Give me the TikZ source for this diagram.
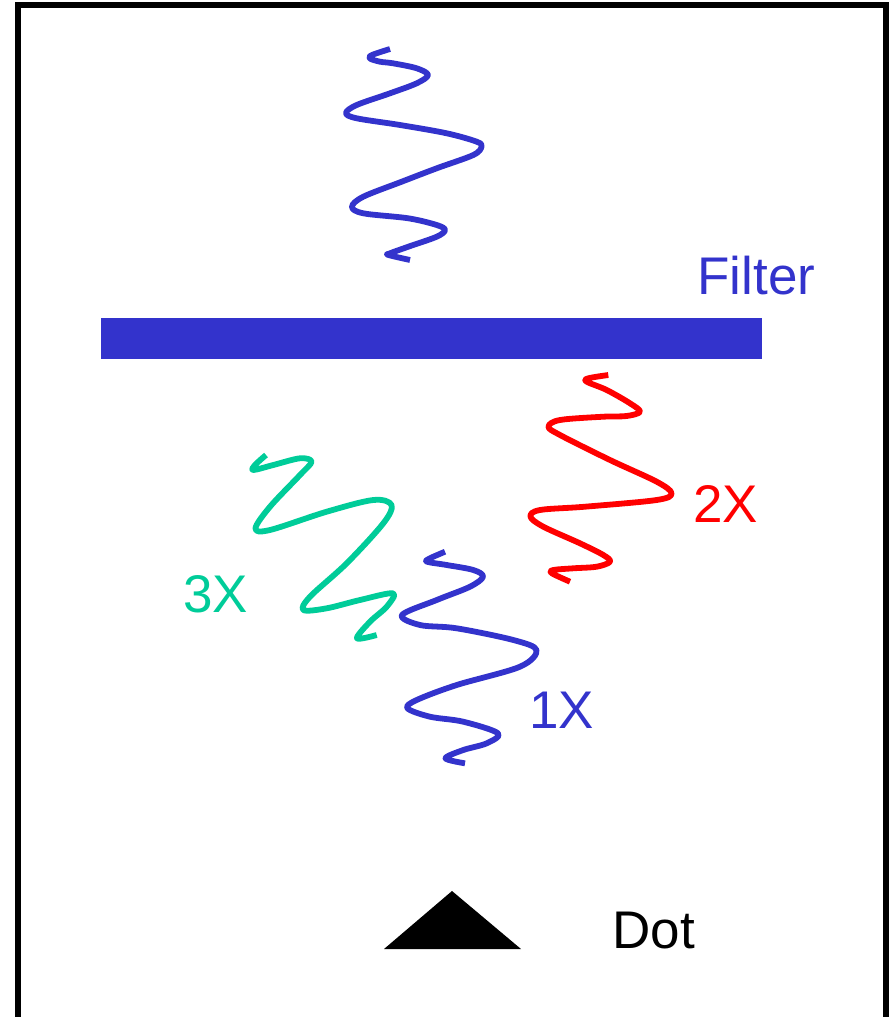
\documentclass[tikz,border=0pt]{standalone}
\usepackage{fontspec}
\setmainfont{Liberation Sans}
\definecolor{photonblue}{RGB}{51,51,204}
\definecolor{photonred}{RGB}{255,0,0}
\definecolor{photongreen}{RGB}{0,204,153}
\begin{document}
\begin{tikzpicture}[x=0.5pt,y=-0.5pt,
  wave/.style={line width=2.9pt,line join=round,smooth,tension=0.55},
  tag/.style={inner sep=0pt,anchor=base west,font=\fontsize{26.5}{30}\selectfont}]
\useasboundingbox (0,0) rectangle (891,1017);
\clip (0,0) rectangle (891,1017);
% outer frame, open at the bottom
\draw[line width=3pt] (18,1040) -- (18,5) -- (886,5) -- (886,1040);

% incoming photon
\draw[wave,photonblue] plot coordinates {
  (390,49) (372,55) (370,58.5) (380,61.7) (393,63.3) (416.7,68.3) (428,75)
  (416.7,83.3) (390,93.3) (356.7,105) (346,113) (356.7,118.3) (400,125)
  (446.7,133.3) (476.7,141.7) (481.5,146.7) (473.3,155) (436.7,168.3)
  (401.7,181.7) (363.3,196.7) (352,206.7) (363.3,213.3) (408.3,218.3)
  (436.7,225) (445,230) (436.7,236.7) (408.3,246.7) (390,253.3) (388.5,255)
  (410,260)};

% filter
\fill[photonblue] (101,318) rectangle (762,359);
\node[tag,text=photonblue] (filter) at (697,294) {Filter};

% red photon
\draw[wave,photonred] plot coordinates {
  (608.3,375) (588.3,378.3) (586.7,381.7) (606.7,390) (630,403.3) (640,411.7)
  (626.7,416) (603.3,416.7) (560,420) (548.5,426.7) (560,435) (610,460)
  (656.7,481.7) (671.5,493.3) (656.7,500) (585,506.7) (540,510) (530.5,516.7)
  (543.3,526.7) (580,543.3) (603.3,555) (610,561.7) (596.7,566.7) (573.3,568.3)
  (553.3,570) (552,573.3) (570,581.7)};
\node[tag,text=photonred] (twox) at (693,522) {2X};

% green photon
\draw[wave,photongreen] plot coordinates {
  (266,455) (255,465) (253.5,470) (273.3,465) (300,458.3) (311.5,461.7)
  (300,475) (270,506.7) (255.5,528.3) (270,530) (326.7,511.7) (373.3,500)
  (391.5,505) (383.3,523.3) (346.7,563.3) (310,596.7) (303.5,610) (326.7,608.3)
  (360,600) (393,593.3) (386.7,606.7) (370,621.7) (357,638.3) (376.7,635)};
\node[tag,text=photongreen] (threex) at (183,612) {3X};

% blue photon below the filter
\draw[wave,photonblue] plot coordinates {
  (445,551.7) (430,558.3) (427,561.7) (446.7,565) (473.3,570) (483,576.7)
  (470,586.7) (436.7,600) (402,615) (420,625) (456.7,628.3) (513.3,640)
  (536.5,650) (520,666.7) (456.7,685) (416.7,700) (407.5,708.3) (430,716.7)
  (463.3,721.7) (498,733.3) (486.7,743.3) (463.3,750) (445.5,758.3) (465,763.3)};
\node[tag,text=photonblue] (onex) at (529,728) {1X};

% detector
\fill (384,949) -- (452,891) -- (521,949) -- cycle;
\node[tag] (dot) at (612,948) {Dot};
\end{tikzpicture}
\end{document}
